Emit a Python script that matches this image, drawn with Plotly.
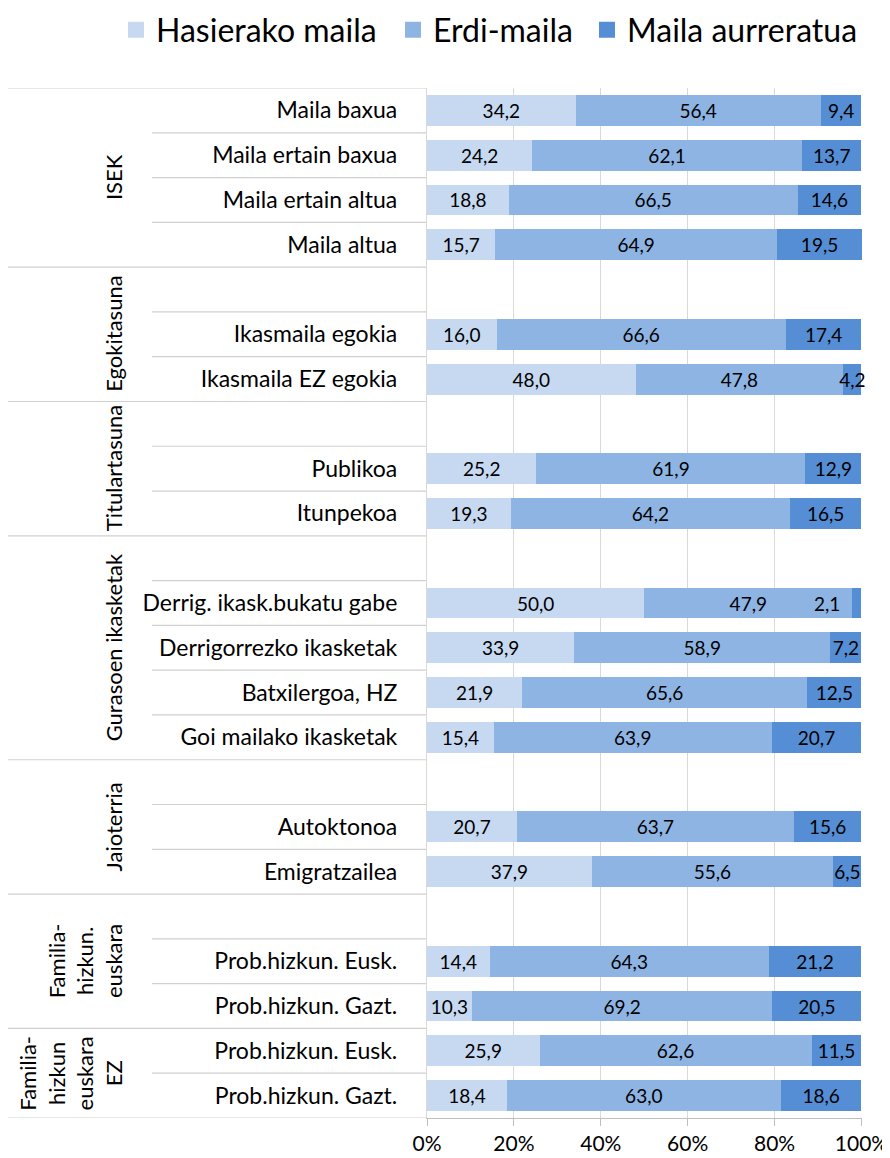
import plotly.graph_objects as go

# ---------------- data ----------------
row_labels = [
    "Maila baxua", "Maila ertain baxua", "Maila ertain altua", "Maila altua",
    "", "Ikasmaila egokia", "Ikasmaila EZ egokia",
    "", "Publikoa", "Itunpekoa",
    "", "Derrig. ikask.bukatu gabe", "Derrigorrezko ikasketak", "Batxilergoa, HZ", "Goi mailako ikasketak",
    "", "Autoktonoa", "Emigratzailea",
    "", "Prob.hizkun. Eusk.", "Prob.hizkun. Gazt.",
    "Prob.hizkun. Eusk.", "Prob.hizkun. Gazt.",
]
hasierako = [34.2, 24.2, 18.8, 15.7,
             None, 16.0, 48.0,
             None, 25.2, 19.3,
             None, 50.0, 33.9, 21.9, 15.4,
             None, 20.7, 37.9,
             None, 14.4, 10.3,
             25.9, 18.4]
erdi = [56.4, 62.1, 66.5, 64.9,
        None, 66.6, 47.8,
        None, 61.9, 64.2,
        None, 47.9, 58.9, 65.6, 63.9,
        None, 63.7, 55.6,
        None, 64.3, 69.2,
        62.6, 63.0]
aurreratua = [9.4, 13.7, 14.6, 19.5,
              None, 17.4, 4.2,
              None, 12.9, 16.5,
              None, 2.1, 7.2, 12.5, 20.7,
              None, 15.6, 6.5,
              None, 21.2, 20.5,
              11.5, 18.6]
group_names = ["ISEK", "Egokitasuna", "Titulartasuna", "Gurasoen ikasketak",
               "Jaioterria", "Familia-<br>hizkun.<br>euskara", "Familia-<br>hizkun<br>euskara<br>EZ"]
group_sizes = [4, 3, 3, 5, 3, 3, 2]
series_names = ["Hasierako maila", "Erdi-maila", "Maila aurreratua"]
tick_vals_x = [0, 20, 40, 60, 80, 100]
tick_text_x = ["0%", "20%", "40%", "60%", "80%", "100%"]

colors = ["#C6D9F1", "#8EB4E3", "#558ED5"]
FONT = "Lato"

# page has an 8px body margin: figure is drawn at (8, 8)
OFF = 8
W, H = 890 - OFF, 1158 - OFF
L, R, T, B = 427 - OFF, 28, 88 - OFF, 40
plot_w = W - L - R
plot_h = H - T - B


def px_to_paper_x(sx):
    return (sx - OFF - L) / plot_w


def px_to_paper_y(sy):
    return 1 + (T - (sy - OFF)) / plot_h


def fmt(v):
    return "" if v is None else f"{v:.1f}".replace(".", ",")


rows = list(range(len(row_labels)))

# the tiny "2,1" label is drawn beside its segment, as in the original
small_thr = 3.0
aur_text = [fmt(v) if (v is not None and v >= small_thr) else "" for v in aurreratua]

legend_ids = ["legend", "legend2", "legend3"]

fig = go.Figure()
for k, (name, vals, col, txt) in enumerate([
    (series_names[0], hasierako, colors[0], [fmt(v) for v in hasierako]),
    (series_names[1], erdi, colors[1], [fmt(v) for v in erdi]),
    (series_names[2], aurreratua, colors[2], aur_text),
]):
    fig.add_trace(go.Bar(
        name=name, y=rows, x=vals, orientation="h",
        marker=dict(color=col, line=dict(width=0)),
        text=txt, textposition="inside", insidetextanchor="middle",
        textangle=0, constraintext="none", cliponaxis=False,
        textfont=dict(family=FONT, size=19, color="#000000"),
        hoverinfo="x+name", showlegend=False, legendgroup=name,
    ))
    # legend entry (square swatch)
    fig.add_trace(go.Scatter(
        name=name, x=[None], y=[None], mode="markers",
        marker=dict(symbol="square", size=16, color=col),
        legend=legend_ids[k], legendgroup=name, showlegend=True, hoverinfo="skip",
    ))

# side label for small segments
for i, v in enumerate(aurreratua):
    if v is not None and v < small_thr:
        start = hasierako[i] + erdi[i]
        fig.add_annotation(x=start, y=i, xref="x", yref="y", text=fmt(v),
                           showarrow=False, xanchor="right", xshift=-10,
                           font=dict(family=FONT, size=19, color="#000000"))

# separator lines in the category area
line_col = "#D0D0D0"
boundaries = [-0.5]
for s in group_sizes:
    boundaries.append(boundaries[-1] + s)
x_group = px_to_paper_x(8)
x_row = px_to_paper_x(152)
for b in boundaries:
    fig.add_shape(type="line", xref="paper", yref="y", x0=x_group, x1=0, y0=b, y1=b,
                  line=dict(color=line_col, width=1.2), layer="below")
for gi, s in enumerate(group_sizes):
    start = boundaries[gi]
    for k in range(1, s):
        yy = start + k
        fig.add_shape(type="line", xref="paper", yref="y", x0=x_row, x1=0, y0=yy, y1=yy,
                      line=dict(color=line_col, width=1.2), layer="below")

# group labels
x_glabel = px_to_paper_x(129)
for gi, g in enumerate(group_names):
    centre = (boundaries[gi] + boundaries[gi + 1]) / 2
    fig.add_annotation(x=x_glabel, y=centre, xref="paper", yref="y", text=g,
                       showarrow=False, textangle=-90, xanchor="right", yanchor="middle",
                       font=dict(family=FONT, size=22, color="#000000"))

legend_style = dict(orientation="h", xanchor="left", yanchor="middle",
                    font=dict(family=FONT, size=32, color="#000000"),
                    itemwidth=30, bgcolor="rgba(0,0,0,0)")
legend_text_x = [158, 435, 629]
legend_y = px_to_paper_y(30)
fig.update_layout(
    width=W, height=H,
    margin=dict(l=L, r=R, t=T, b=B, autoexpand=False),
    barmode="stack", bargap=0.31,
    plot_bgcolor="white", paper_bgcolor="white",
    font=dict(family=FONT, size=21, color="#000000"),
    showlegend=True,
    legend=dict(legend_style, x=px_to_paper_x(legend_text_x[0] - 42), y=legend_y),
    legend2=dict(legend_style, x=px_to_paper_x(legend_text_x[1] - 42), y=legend_y),
    legend3=dict(legend_style, x=px_to_paper_x(legend_text_x[2] - 42), y=legend_y),
    xaxis=dict(range=[0, 100.12], tickvals=tick_vals_x, ticktext=tick_text_x,
               showgrid=True, gridcolor="#D9D9D9", gridwidth=1.2,
               showline=True, linecolor="#BFBFBF", linewidth=1.2,
               ticks="outside", ticklen=7, tickcolor="#BFBFBF",
               tickfont=dict(family=FONT, size=21, color="#000000"),
               zeroline=False, fixedrange=True),
    yaxis=dict(range=[len(rows) - 0.5, -0.5], tickvals=rows, ticktext=row_labels,
               showgrid=False, zeroline=False,
               showline=True, linecolor="#D9D9D9", linewidth=1.2,
               ticks="", ticklabelstandoff=24,
               tickfont=dict(family=FONT, size=23, color="#000000"),
               fixedrange=True),
)

fig.write_html("out.html")
